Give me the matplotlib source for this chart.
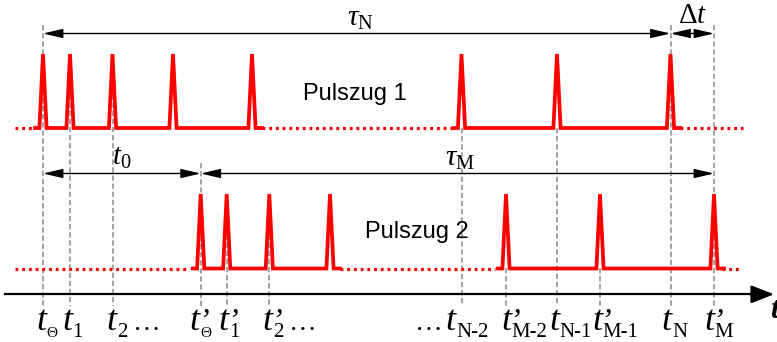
import matplotlib
matplotlib.rcParams['mathtext.fontset'] = 'custom'
matplotlib.rcParams['mathtext.rm'] = 'Liberation Serif'
matplotlib.rcParams['mathtext.it'] = 'Liberation Serif:italic'
matplotlib.rcParams['mathtext.bf'] = 'Liberation Serif:bold:italic'
import matplotlib.pyplot as plt
from matplotlib.patches import FancyArrowPatch

# ------------------------------------------------------------
# data (pixel-like time units)
# ------------------------------------------------------------
train1_groups = [[43, 70, 112.5, 173, 252], [461.5, 557, 670.5]]
train2_groups = [[200.7, 226.7, 269.3, 330], [506, 600, 714]]
train1_dotted = [(15, 35), (262, 452), (680, 743)]
train2_dotted = [(15, 188), (340, 495), (722, 740)]

tick_x = [43, 70, 112.5, 200.7, 226.7, 269.3, 461.5, 506, 557, 600, 670.5, 714]
tick_top = [25, 54, 54, 163, 194, 194, 128, 268, 128, 268, 25, 25]
tick_sub = ['Θ', '1', '2', 'Θ', '1', '2', 'N-2', 'M-2', 'N-1', 'M-1', 'N', 'M']
tick_prime = [False, False, False, True, True, True, False, True, False, True, False, True]
tick_dots = ['', '', 'after', '', '', 'after', 'before', '', '', '', '', '']
tick_shift = [-2, -3, -1, -6, -3, -2, -11, 0, -3, -3, -4, -5]

base1, peak1 = 128, 54
base2, peak2 = 268.5, 194
half_w = 3.6
red = '#ff0000'

fig = plt.figure(figsize=(7.77, 3.42), dpi=100)
ax = fig.add_axes([0, 0, 1, 1])
ax.set_xlim(0, 777)
ax.set_ylim(342, 0)
ax.axis('off')


def pulse_path(peaks, base, peak):
    xs = [peaks[0] - 8]
    ys = [base]
    for p in peaks:
        xs += [p - half_w, p, p + half_w]
        ys += [base, peak, base]
    xs.append(peaks[-1] + 10)
    ys.append(base)
    return xs, ys


for groups, dotted, base, peak in [(train1_groups, train1_dotted, base1, peak1),
                                   (train2_groups, train2_dotted, base2, peak2)]:
    for g in groups:
        xs, ys = pulse_path(g, base, peak)
        ax.plot(xs, ys, color=red, lw=2.7, solid_joinstyle='miter', zorder=3)
    for x0, x1 in dotted:
        ax.plot([x0, x1], [base, base], color=red, lw=2.3, linestyle=(0, (0.9, 1.2)),
                dash_capstyle='butt', zorder=3)

# vertical gray dashed guides
for x, top in zip(tick_x, tick_top):
    ax.plot([x, x], [top, 306], color='#8c8c8c', lw=1.1, linestyle=(0, (3.5, 1.8)), zorder=2)

# time axis
ax.plot([5, 760], [294.3, 294.3], color='black', lw=1.6, zorder=4)
ax.add_patch(FancyArrowPatch((750, 294.3), (774, 294.3), arrowstyle='-|>,head_length=1.4,head_width=0.55',
                             mutation_scale=10, color='black', lw=1.6, shrinkA=0, shrinkB=0, zorder=4))
ax.text(770, 318, r'$\mathbf{t}$', fontsize=22, ha='left', va='baseline')


def dim_arrow(x0, x1, y):
    ax.add_patch(FancyArrowPatch((x0, y), (x1, y), arrowstyle='<|-|>,head_length=1.2,head_width=0.28',
                                 mutation_scale=10, color='black', lw=1.0, shrinkA=0, shrinkB=0, zorder=5))


dim_arrow(43, 670.5, 33.5)
dim_arrow(670.5, 714, 33.5)
dim_arrow(43, 200.7, 173.5)
dim_arrow(200.7, 714, 173.5)

ax.text(347, 26, r'$\tau_{\mathrm{N}}$', fontsize=21, ha='left', va='baseline')
ax.text(693, 23, r'$\Delta t$', fontsize=21, ha='center', va='baseline')
ax.text(112, 165, r'$t_{0}$', fontsize=21, ha='left', va='baseline')
ax.text(445, 166, r'$\tau_{\mathrm{M}}$', fontsize=21, ha='left', va='baseline')

ax.text(355, 100, 'Pulszug 1', fontsize=17, family='Liberation Sans', ha='center', va='baseline')
ax.text(417, 238, 'Pulszug 2', fontsize=17, family='Liberation Sans', ha='center', va='baseline')

# tick labels: italic t, optional prime, upright subscript
serif = 'Liberation Serif'
for x, sub, prime, dots, sh in zip(tick_x, tick_sub, tick_prime, tick_dots, tick_shift):
    xc = x + sh
    ax.text(xc, 330, 't', fontsize=26, family=serif, style='italic', ha='center', va='baseline')
    if prime:
        ax.text(xc + 3.5, 330, '’', fontsize=23, family=serif, style='italic', ha='left', va='baseline')
    sub_size = 11 if sub == 'Θ' else 15
    ax.text(xc + 5.5, 337, sub, fontsize=sub_size, family=serif, ha='left', va='baseline')
    if dots == 'after':
        ax.text(xc + 22, 330, '…', fontsize=20, family=serif, ha='left', va='baseline')
    elif dots == 'before':
        ax.text(xc - 8, 330, '…', fontsize=20, family=serif, ha='right', va='baseline')

fig.savefig('out.png', dpi=100, facecolor='white')
